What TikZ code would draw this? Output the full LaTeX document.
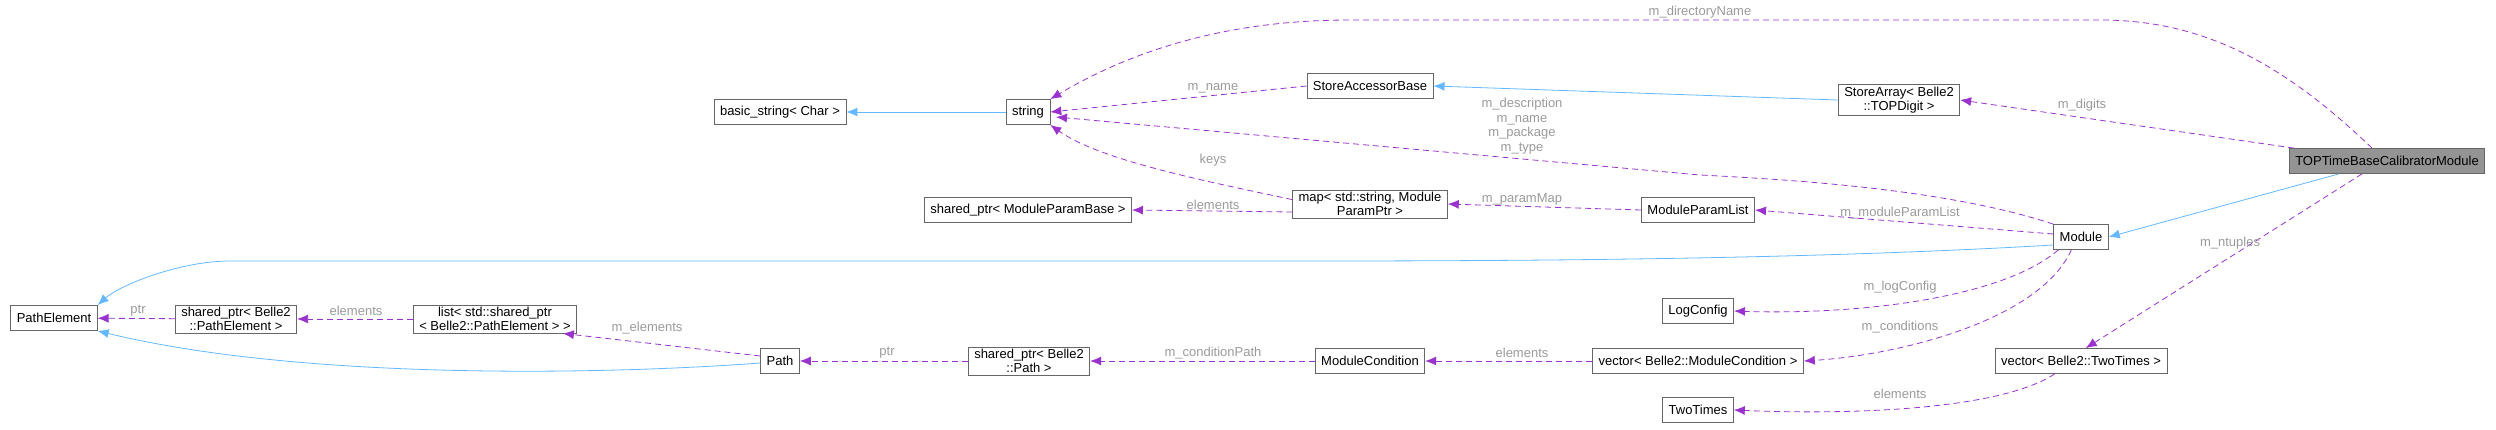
\documentclass[tikz,border=0pt]{standalone}
\usepackage{fontspec}
\setmainfont{Liberation Sans}
\usetikzlibrary{arrows.meta,positioning}
\definecolor{inhblue}{HTML}{63B8FF}
\definecolor{usepurple}{HTML}{9A32CD}
\definecolor{lblgray}{HTML}{9A9A9A}
\definecolor{boxgray}{HTML}{666666}
\begin{document}
\begin{tikzpicture}[
    x=1pt, y=-1pt,
    font=\fontsize{13}{14.5}\selectfont,
    box/.style={draw=boxgray, thick, fill=white, inner xsep=6pt, inner ysep=2pt, minimum height=25pt, align=center},
    inh/.style={-{Latex[length=11pt,width=9pt]}, inhblue, thick},
    use/.style={-{Latex[length=11pt,width=9pt]}, usepurple, thick, dash pattern=on 6pt off 4pt},
    lbl/.style={text=lblgray, inner sep=1pt, align=center}
]
    \useasboundingbox (0,0) rectangle (2496,429);

    % --- 1. classes ---
    \node[box, fill=boxgray!70] (top) at (2387,161) {TOPTimeBaseCalibratorModule};
    \node[box] (mod)   at (2081,237) {Module};
    \node[box] (sarr)  at (1899,100) {StoreArray< Belle2\\::TOPDigit >};
    \node[box] (sab)   at (1370,86)  {StoreAccessorBase};
    \node[box] (str)   at (1028,112) {string};
    \node[box] (bstr)  at (780,112)  {basic\_string< Char >};
    \node[box] (map)   at (1370,204) {map< std::string, Module\\ParamPtr >};
    \node[box] (spmpb) at (1028,210) {shared\_ptr< ModuleParamBase >};
    \node[box] (mpl)   at (1698,210) {ModuleParamList};
    \node[box] (logc)  at (1698,311) {LogConfig};
    \node[box] (vmc)   at (1698,361) {vector< Belle2::ModuleCondition >};
    \node[box] (mc)    at (1370,361) {ModuleCondition};
    \node[box] (sppath) at (1029,361) {shared\_ptr< Belle2\\::Path >};
    \node[box] (path)  at (780,361)  {Path};
    \node[box] (lst)   at (495,319)  {list< std::shared\_ptr\\< Belle2::PathElement > >};
    \node[box] (sppe)  at (236,319)  {shared\_ptr< Belle2\\::PathElement >};
    \node[box] (pe)    at (54,318)   {PathElement};
    \node[box] (vtt)   at (2081,361) {vector< Belle2::TwoTimes >};
    \node[box] (tt)    at (1698,410) {TwoTimes};

    % --- 2. inheritance ---
    \draw[inh] (str) -- (bstr);
    \draw[inh] (sarr.west) -- (sab.east);
    \draw[inh] (top.south west) ++(50,0) -- (mod.east);
    \draw[inh] (mod.west) ++(0,8) .. controls (1800,260) and (1500,261) .. (1300,261)
        -- (230,261) .. controls (180,261) and (120,285) .. (pe.north east);
    \draw[inh] (path.west) ++(0,2) .. controls (600,375) and (300,380) .. (pe.south east);

    % --- 3. usage ---
    \draw[use] (top.north) ++(-15,0) .. controls (2280,60) and (2200,20) .. (2100,20)
        -- (1350,20) .. controls (1250,20) and (1150,40) .. (str.north east);
    \draw[use] (top.north west) ++(5,0) -- (sarr.east);
    \draw[use] (top.south) ++(-25,0) -- (vtt.70);
    \draw[use] (mod.north west) .. controls (1950,190) and (1800,180) .. (1700,175)
        -- (1056,117);
    \draw[use] (sab.west) -- (str.east);
    \draw[use] (map.north west) ++(0,10) .. controls (1200,180) and (1100,160) .. (str.south east);
    \draw[use] (map.west) ++(0,8) -- (spmpb.east);
    \draw[use] (mpl.west) -- (map.east);
    \draw[use] (mod.west) ++(0,-3) -- (mpl.east);
    \draw[use] (mod.south west) ++(5,0) .. controls (2000,300) and (1850,315) .. (logc.east);
    \draw[use] (mod.south west) ++(18,0) .. controls (2040,320) and (1900,355) .. (vmc.east);
    \draw[use] (vmc) -- (mc);
    \draw[use] (mc) -- (sppath);
    \draw[use] (sppath) -- (path);
    \draw[use] (path.west) ++(0,-5) -- (lst.-12);
    \draw[use] (lst) -- (sppe);
    \draw[use] (sppe) -- (pe);
    \draw[use] (vtt.south west) ++(60,0) .. controls (2000,410) and (1850,415) .. (tt.east);

    % --- 4. labels ---
    \node[lbl] (l_dir)  at (1700,12)  {m\_directoryName};
    \node[lbl] (l_dig)  at (2082,105) {m\_digits};
    \node[lbl] (l_nt)   at (2230,243) {m\_ntuples};
    \node[lbl] (l_desc) at (1522,126) {m\_description\\m\_name\\m\_package\\m\_type};
    \node[lbl] (l_name) at (1213,88)  {m\_name};
    \node[lbl] (l_keys) at (1213,160) {keys};
    \node[lbl] (l_el1)  at (1213,205) {elements};
    \node[lbl] (l_pm)   at (1522,199) {m\_paramMap};
    \node[lbl] (l_mpl)  at (1900,213) {m\_moduleParamList};
    \node[lbl] (l_log)  at (1900,287) {m\_logConfig};
    \node[lbl] (l_cond) at (1900,327) {m\_conditions};
    \node[lbl] (l_el2)  at (1522,353) {elements};
    \node[lbl] (l_cp)   at (1213,353) {m\_conditionPath};
    \node[lbl] (l_ptr1) at (887,353)  {ptr};
    \node[lbl] (l_mel)  at (647,328)  {m\_elements};
    \node[lbl] (l_el3)  at (356,311)  {elements};
    \node[lbl] (l_ptr2) at (138,311)  {ptr};
    \node[lbl] (l_el4)  at (1900,394) {elements};

\end{tikzpicture}
\end{document}
